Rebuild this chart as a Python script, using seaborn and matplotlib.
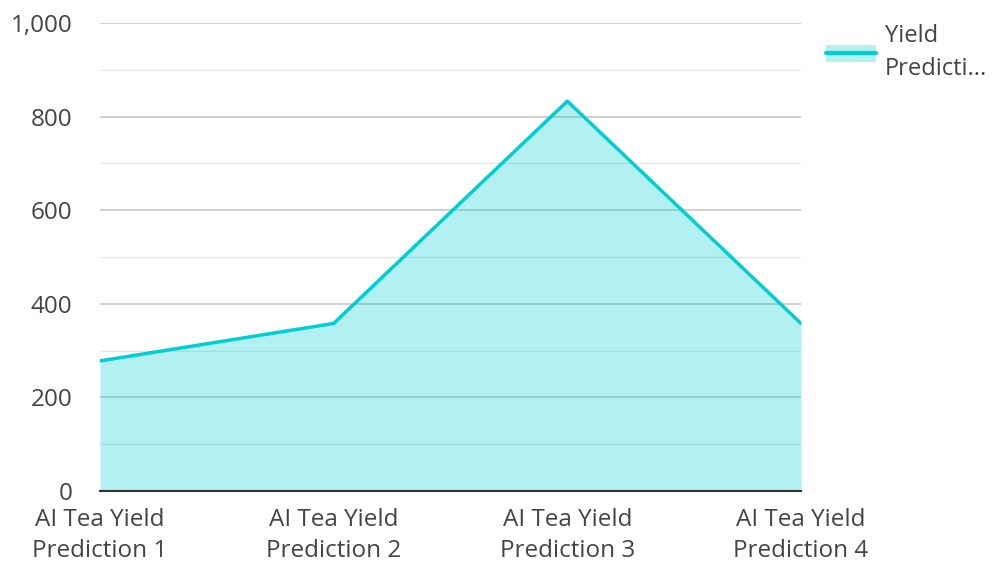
import matplotlib.pyplot as plt
import numpy as np
import pandas as pd
import seaborn as sns
from matplotlib.lines import Line2D
from matplotlib.patches import Patch

# Данные
categories = ['AI Tea Yield\nPrediction 1', 'AI Tea Yield\nPrediction 2',
              'AI Tea Yield\nPrediction 3', 'AI Tea Yield\nPrediction 4']
values = [278, 358, 833, 358]
series_name = 'Yield\nPredicti...'

df = pd.DataFrame({'pos': np.arange(len(categories)), 'value': values})

sns.set_style('white')
plt.rcParams['font.family'] = ['Open Sans', 'DejaVu Sans']

fig = plt.figure(figsize=(9.95, 5.63), dpi=100)
ax = fig.add_axes([100 / 995, 1 - 491 / 563, 701 / 995, 468 / 563])

color = '#00CED1'
ax.fill_between(df['pos'], df['value'], 0, color=color, alpha=0.3, lw=0, zorder=2)
sns.lineplot(data=df, x='pos', y='value', color=color, lw=2.5, ax=ax, zorder=3)

ax.set_xlim(0, len(categories) - 1)
ax.set_ylim(0, 1000)
ax.set_yticks(np.arange(0, 1001, 200))
ax.set_yticks(np.arange(100, 1000, 200), minor=True)
ax.set_yticklabels([f'{v:,}' for v in range(0, 1001, 200)])
ax.set_xticks(df['pos'])
ax.set_xticklabels(categories, linespacing=1.4)
ax.grid(axis='y', which='major', color='#c8c8c8', lw=1.2, zorder=1)
ax.grid(axis='y', which='minor', color='#e6e6e6', lw=1.0, zorder=1)
ax.set_axisbelow(True)
ax.tick_params(axis='both', which='both', length=0, labelsize=17.5, colors='#444444')
ax.tick_params(axis='y', pad=20)
ax.tick_params(axis='x', pad=12)
ax.set_xlabel('')
ax.set_ylabel('')
for s in ['top', 'right', 'left']:
    ax.spines[s].set_visible(False)
ax.spines['bottom'].set_color('#333333')
ax.spines['bottom'].set_linewidth(1.5)

# Легенда
handle = (Patch(facecolor=color, alpha=0.3, lw=0), Line2D([], [], color=color, lw=3))
leg = fig.legend([handle], [series_name], loc='upper left', bbox_to_anchor=(826 / 995, 1 - 24 / 563),
                 frameon=False, fontsize=17, handlelength=2.1, handletextpad=0.4,
                 borderpad=0, borderaxespad=0, labelcolor='#444444')
for t in leg.get_texts():
    t.set_linespacing(1.5)

fig.savefig('out.png', dpi=100)
